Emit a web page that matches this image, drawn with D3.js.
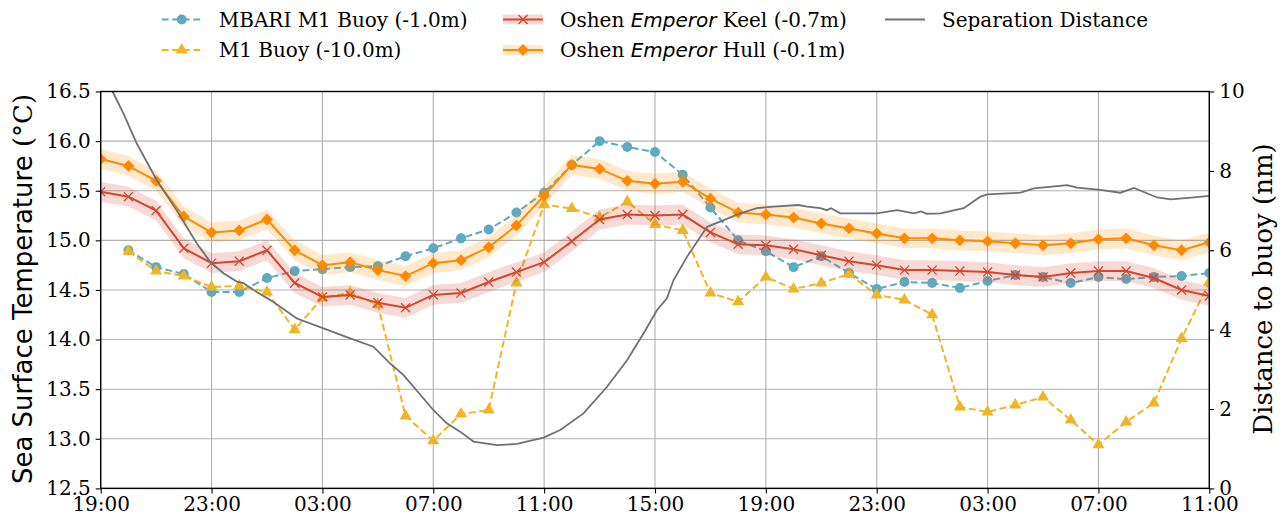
<!DOCTYPE html>
<html>
<head>
<meta charset="utf-8">
<script src="https://cdn.jsdelivr.net/npm/d3@7"></script>
<style>
  body { margin: 0; background: #fff; }
  svg text { font-family: "DejaVu Serif", "Liberation Serif", serif; fill: #000; }
</style>
</head>
<body>
<div id="chart"></div>
<script>
// hours after 19:00 on the first evening
var startTime = new Date(2021, 6, 20, 19, 0);
var tickHours = [0, 4, 8, 12, 16, 20, 24, 28, 32, 36, 40];
var hullHours = d3.range(0, 41);
var buoyHours = d3.range(1, 41);

var hullTemp = [15.82, 15.75, 15.60, 15.24, 15.08, 15.10, 15.21, 14.90, 14.75, 14.78, 14.70, 14.64, 14.77,
  14.80, 14.93, 15.15, 15.45, 15.76, 15.72, 15.60, 15.57, 15.59, 15.42, 15.28, 15.26, 15.23, 15.17,
  15.12, 15.07, 15.02, 15.02, 15.00, 14.99, 14.97, 14.95, 14.97, 15.01, 15.02, 14.95, 14.90, 14.98];
var keelTemp = [15.49, 15.44, 15.30, 14.92, 14.77, 14.79, 14.90, 14.57, 14.43, 14.45, 14.37, 14.32, 14.45,
  14.47, 14.58, 14.68, 14.78, 14.99, 15.21, 15.26, 15.25, 15.26, 15.08, 14.96, 14.95, 14.91, 14.85,
  14.79, 14.75, 14.70, 14.70, 14.69, 14.68, 14.65, 14.63, 14.67, 14.69, 14.69, 14.62, 14.50, 14.44];
var m1SurfaceTemp = [14.90, 14.73, 14.66, 14.48, 14.48, 14.62, 14.69, 14.71, 14.73, 14.74, 14.84, 14.92,
  15.02, 15.11, 15.28, 15.48, 15.76, 16.00, 15.94, 15.89, 15.66, 15.33, 15.00, 14.89, 14.73, 14.84,
  14.67, 14.51, 14.58, 14.57, 14.52, 14.59, 14.65, 14.63, 14.57, 14.63, 14.61, 14.63, 14.64, 14.67];
var m1DeepTemp = [14.89, 14.69, 14.64, 14.53, 14.54, 14.48, 14.10, 14.42, 14.47, 14.35, 13.23, 12.98,
  13.25, 13.29, 14.57, 15.36, 15.32, 15.23, 15.39, 15.16, 15.10, 14.47, 14.38, 14.63, 14.51, 14.57,
  14.66, 14.45, 14.40, 14.25, 13.32, 13.27, 13.34, 13.42, 13.19, 12.94, 13.17, 13.36, 14.01, 14.58];
var sensorError = 0.1;

var distHours = [0, 0.43, 0.82, 1.30, 2.02, 2.74, 3.47, 3.95, 4.43, 4.91, 5.15, 5.63, 6.11, 7.08, 8.04,
  9.00, 9.84, 10.44, 10.92, 12.01, 12.49, 12.97, 13.45, 14.30, 15.02, 15.98, 16.58, 17.42, 18.27,
  18.99, 19.59, 20.07, 20.43, 20.67, 21.16, 21.88, 22.48, 23.08, 23.68, 24.28, 25.18, 25.49, 25.97,
  26.20, 26.35, 26.69, 28.01, 28.74, 29.34, 29.60, 29.80, 30.30, 31.14, 31.74, 31.99, 33.19, 33.67,
  34.87, 35.23, 36.07, 36.79, 37.28, 38.12, 38.61, 39.45, 40.0];
var distNm = [10.6, 10.0, 9.45, 8.69, 7.77, 7.01, 6.17, 5.71, 5.42, 5.21, 5.17, 4.95, 4.75, 4.28, 4.03,
  3.78, 3.57, 3.15, 2.86, 1.97, 1.64, 1.43, 1.18, 1.09, 1.12, 1.28, 1.47, 1.89, 2.56,
  3.23, 3.91, 4.49, 4.79, 5.25, 5.84, 6.59, 6.76, 6.93, 7.06, 7.10, 7.14, 7.10, 7.06,
  7.01, 7.06, 6.93, 6.93, 7.01, 6.93, 6.98, 6.92, 6.93, 7.06, 7.35, 7.41, 7.45, 7.56,
  7.64, 7.58, 7.52, 7.45, 7.57, 7.33, 7.28, 7.33, 7.37];

var tempTicks = [12.5, 13.0, 13.5, 14.0, 14.5, 15.0, 15.5, 16.0, 16.5];
var distTicks = [0, 2, 4, 6, 8, 10];

var colors = { m1: "#5eaabf", m1deep: "#f0b424", keel: "#d6452c", hull: "#ff8a00", dist: "#707070" };
var serif = "'DejaVu Serif', 'Liberation Serif', serif";

function toTime(h) { return new Date(startTime.getTime() + h * 3600e3); }

var width = 1287, height = 525;
var margin = { left: 100.7, right: 1287 - 1209.3, top: 91.5, bottom: 525 - 488.4 };

var svg = d3.select("#chart").append("svg").attr("width", width).attr("height", height);

var x = d3.scaleTime().domain([toTime(0), toTime(40)]).range([margin.left, width - margin.right]);
var y = d3.scaleLinear().domain([12.5, 16.5]).range([height - margin.bottom, margin.top]);
var y2 = d3.scaleLinear().domain([0, 10]).range([height - margin.bottom, margin.top]);

svg.append("clipPath").attr("id", "plotclip").append("rect")
  .attr("x", margin.left).attr("y", margin.top)
  .attr("width", width - margin.left - margin.right)
  .attr("height", height - margin.top - margin.bottom);

// grid
var grid = svg.append("g").attr("stroke", "#b0b0b0").attr("stroke-width", 1.1);
grid.selectAll(".gx").data(tickHours).enter().append("line")
  .attr("x1", function(d) { return x(toTime(d)); }).attr("x2", function(d) { return x(toTime(d)); })
  .attr("y1", margin.top).attr("y2", height - margin.bottom);
grid.selectAll(".gy").data(tempTicks).enter().append("line")
  .attr("y1", function(d) { return y(d); }).attr("y2", function(d) { return y(d); })
  .attr("x1", margin.left).attr("x2", width - margin.right);

var plot = svg.append("g").attr("clip-path", "url(#plotclip)");

function drawSeries(hours, values, color, dashed, symbol, size, hollow) {
  var pts = hours.map(function(h, i) { return [toTime(h), values[i]]; });
  var line = d3.line().x(function(d) { return x(d[0]); }).y(function(d) { return y(d[1]); });
  plot.append("path").datum(pts).attr("d", line)
    .attr("fill", "none").attr("stroke", color).attr("stroke-width", 2)
    .attr("stroke-dasharray", dashed ? "7,3.5" : null);
  var sym = d3.symbol().type(symbol).size(size);
  plot.selectAll(null).data(pts).enter().append("path")
    .attr("d", sym)
    .attr("transform", function(d) {
      return "translate(" + x(d[0]) + "," + y(d[1]) + ")" + (symbol === d3.symbolSquare ? " rotate(45)" : "");
    })
    .attr("fill", hollow ? "none" : color)
    .attr("stroke", hollow ? color : "none")
    .attr("stroke-width", 1.3);
}

function drawBand(hours, values, color) {
  var area = d3.area()
    .x(function(d, i) { return x(toTime(hours[i])); })
    .y0(function(d) { return y(d - sensorError); })
    .y1(function(d) { return y(d + sensorError); });
  plot.append("path").datum(values).attr("d", area).attr("fill", color).attr("opacity", 0.2);
}

drawSeries(buoyHours, m1SurfaceTemp, colors.m1, true, d3.symbolCircle, 78, false);
drawSeries(buoyHours, m1DeepTemp, colors.m1deep, true, d3.symbolTriangle, 64, false);
drawBand(hullHours, keelTemp, colors.keel);
drawSeries(hullHours, keelTemp, colors.keel, false, d3.symbolTimes, 55, true);
drawBand(hullHours, hullTemp, colors.hull);
drawSeries(hullHours, hullTemp, colors.hull, false, d3.symbolSquare, 70, false);

// separation distance on the twin axis
var distLine = d3.line()
  .x(function(d, i) { return x(toTime(distHours[i])); })
  .y(function(d) { return y2(d); });
plot.append("path").datum(distNm).attr("d", distLine)
  .attr("fill", "none").attr("stroke", colors.dist).attr("stroke-width", 1.8);

// axes
var xAxis = d3.axisBottom(x).tickValues(tickHours.map(toTime)).tickFormat(d3.timeFormat("%H:%M"))
  .tickSize(5).tickPadding(3);
var gx = svg.append("g").attr("transform", "translate(0," + (height - margin.bottom) + ")").call(xAxis);
var gy = svg.append("g").attr("transform", "translate(" + margin.left + ",0)")
  .call(d3.axisLeft(y).tickValues(tempTicks).tickFormat(d3.format(".1f")).tickSize(5).tickPadding(5));
var gy2 = svg.append("g").attr("transform", "translate(" + (width - margin.right) + ",0)")
  .call(d3.axisRight(y2).tickValues(distTicks).tickSize(5).tickPadding(5));
[gx, gy, gy2].forEach(function(g) {
  g.attr("font-family", null).attr("font-size", null);
  g.select(".domain").remove();
  g.selectAll(".tick line").attr("stroke", "#000").attr("stroke-width", 1.1);
  g.selectAll(".tick text").style("font-family", serif).style("font-size", "20px").attr("fill", "#000");
});

svg.append("rect").attr("x", margin.left).attr("y", margin.top)
  .attr("width", width - margin.left - margin.right)
  .attr("height", height - margin.top - margin.bottom)
  .attr("fill", "none").attr("stroke", "#000").attr("stroke-width", 1.4);

// axis labels
var yl = svg.append("text").attr("transform", "translate(32,289) rotate(-90)")
  .attr("text-anchor", "middle").style("font-size", "26px");
yl.append("tspan").style("font-family", "'DejaVu Sans', sans-serif").text("Sea Surface Temperature ");
yl.append("tspan").style("font-family", serif).text("(°C)");
svg.append("text").attr("transform", "translate(1272,289) rotate(-90)")
  .attr("text-anchor", "middle").style("font-family", serif).style("font-size", "26px")
  .text("Distance to buoy (nm)");

// legend
var legendItems = [
  { col: 0, row: 0, color: colors.m1, dashed: true, symbol: d3.symbolCircle, size: 78, parts: ["MBARI M1 Buoy (-1.0m)"] },
  { col: 0, row: 1, color: colors.m1deep, dashed: true, symbol: d3.symbolTriangle, size: 64, parts: ["M1 Buoy (-10.0m)"] },
  { col: 1, row: 0, color: colors.keel, band: true, symbol: d3.symbolTimes, size: 55, hollow: true, parts: ["Oshen ", "Emperor", " Keel (-0.7m)"] },
  { col: 1, row: 1, color: colors.hull, band: true, symbol: d3.symbolSquare, size: 70, parts: ["Oshen ", "Emperor", " Hull (-0.1m)"] },
  { col: 2, row: 0, color: colors.dist, parts: ["Separation Distance"] }
];
var colX = [161.7, 503, 885];
var rowY = [19.5, 50];

var leg = svg.selectAll(".leg").data(legendItems).enter().append("g")
  .attr("transform", function(d) { return "translate(" + colX[d.col] + "," + rowY[d.row] + ")"; });
leg.filter(function(d) { return d.band; }).append("rect")
  .attr("x", 0).attr("y", -5).attr("width", 40).attr("height", 10)
  .attr("fill", function(d) { return d.color; }).attr("opacity", 0.2);
leg.append("line").attr("x1", 0).attr("x2", 40)
  .attr("stroke", function(d) { return d.color; }).attr("stroke-width", 2)
  .attr("stroke-dasharray", function(d) { return d.dashed ? "7,3.5" : null; });
leg.filter(function(d) { return d.symbol; }).append("path")
  .attr("d", function(d) { return d3.symbol().type(d.symbol).size(d.size)(); })
  .attr("transform", function(d) { return "translate(20,0)" + (d.symbol === d3.symbolSquare ? " rotate(45)" : ""); })
  .attr("fill", function(d) { return d.hollow ? "none" : d.color; })
  .attr("stroke", function(d) { return d.hollow ? d.color : "none"; })
  .attr("stroke-width", 1.3);
var lt = leg.append("text").attr("x", 57).attr("y", 7).style("font-size", "20px");
lt.selectAll("tspan").data(function(d) { return d.parts; }).enter().append("tspan")
  .style("font-family", function(p) { return p === "Emperor" ? "'DejaVu Sans', sans-serif" : serif; })
  .style("font-style", function(p) { return p === "Emperor" ? "oblique" : null; })
  .text(function(p) { return p; });
</script>
</body>
</html>
